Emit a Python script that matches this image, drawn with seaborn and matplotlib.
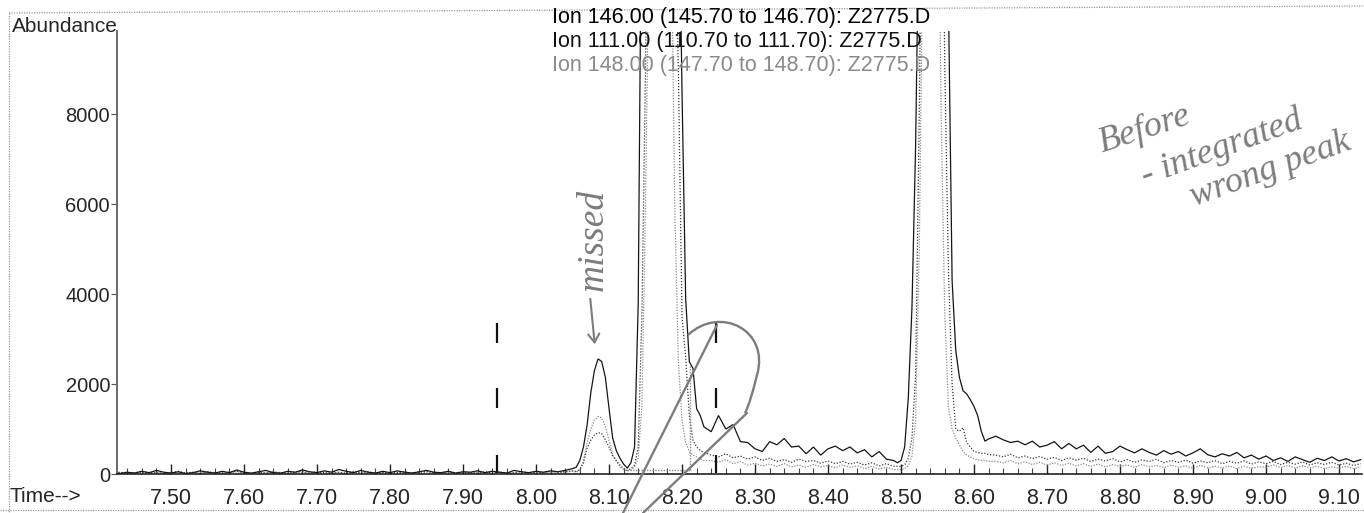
import matplotlib
matplotlib.use("Agg")
import matplotlib.pyplot as plt
import pandas as pd
import seaborn as sns
from matplotlib.lines import Line2D
from matplotlib.path import Path
from matplotlib.patches import PathPatch, FancyArrowPatch
from matplotlib.ticker import FixedLocator, MultipleLocator

# ---------------------------------------------------------------- data
# scan times (min)
time_min = [
    7.42, 7.43, 7.44, 7.45, 7.46, 7.47, 7.48, 7.49, 7.50, 7.51,
    7.52, 7.53, 7.54, 7.55, 7.56, 7.57, 7.58, 7.59, 7.60, 7.61,
    7.62, 7.63, 7.64, 7.65, 7.66, 7.67, 7.68, 7.69, 7.70, 7.71,
    7.72, 7.73, 7.74, 7.75, 7.76, 7.77, 7.78, 7.79, 7.80, 7.81,
    7.82, 7.83, 7.84, 7.85, 7.86, 7.87, 7.88, 7.89, 7.90, 7.91,
    7.92, 7.93, 7.94, 7.95, 7.96, 7.97, 7.98, 7.99, 8.00, 8.01,
    8.02, 8.03, 8.04, 8.05,
    8.055, 8.060, 8.065, 8.070, 8.075, 8.080, 8.085, 8.090, 8.095, 8.100,
    8.105, 8.110, 8.115, 8.120, 8.125, 8.130, 8.135, 8.140, 8.145, 8.150,
    8.155, 8.160, 8.165, 8.170, 8.175, 8.180, 8.185, 8.190, 8.195, 8.200,
    8.205, 8.210, 8.215, 8.220, 8.225, 8.230,
    8.24, 8.25, 8.26, 8.27, 8.28, 8.29, 8.30, 8.31, 8.32, 8.33,
    8.34, 8.35, 8.36, 8.37, 8.38, 8.39, 8.40, 8.41, 8.42, 8.43,
    8.44, 8.45, 8.46, 8.47, 8.48, 8.49,
    8.495, 8.500, 8.505, 8.510, 8.515, 8.520, 8.525, 8.530, 8.535, 8.540,
    8.545, 8.550, 8.555, 8.560, 8.565, 8.570, 8.575, 8.580, 8.585, 8.590,
    8.595, 8.600, 8.605, 8.610, 8.615, 8.620,
    8.63, 8.64, 8.65, 8.66, 8.67, 8.68, 8.69, 8.70, 8.71, 8.72,
    8.73, 8.74, 8.75, 8.76, 8.77, 8.78, 8.79, 8.80, 8.81, 8.82,
    8.83, 8.84, 8.85, 8.86, 8.87, 8.88, 8.89, 8.90, 8.91, 8.92,
    8.93, 8.94, 8.95, 8.96, 8.97, 8.98, 8.99, 9.00, 9.01, 9.02,
    9.03, 9.04, 9.05, 9.06, 9.07, 9.08, 9.09, 9.10, 9.11, 9.12,
    9.13,
]

# extracted ion abundances, same scans as time_min
ion_146 = [
    30, 10, 40, 20, 60, 30, 80, 40, 20, 50,
    10, 30, 70, 40, 20, 60, 30, 90, 40, 20,
    50, 80, 30, 20, 60, 40, 90, 50, 30, 70,
    40, 100, 60, 30, 80, 40, 20, 60, 30, 70,
    40, 20, 50, 80, 40, 30, 60, 20, 50, 40,
    70, 30, 60, 40, 20, 80, 50, 30, 60, 40,
    70, 50, 80, 120,
    150, 300, 600, 1090, 1800, 2300, 2560, 2500, 2150, 1460,
    800, 520, 350, 220, 130, 250, 600, 3800, 14000, 22000,
    27000, 30000, 32000, 33000, 32500, 30000, 26000, 20000, 14000, 8500,
    3900, 2500, 2350, 1450, 1300, 1050,
    940, 1300, 1000, 1100, 720, 700, 560, 500, 720, 650,
    790, 600, 620, 450, 600, 420, 560, 620, 520, 600,
    470, 540, 380, 500, 330, 300,
    250, 300, 600, 1700, 3700, 7300, 13000, 20000, 26000, 30000,
    32000, 31000, 27000, 19000, 10500, 4300, 2750, 2150, 1850, 1780,
    1650, 1500, 1300, 950, 730, 780,
    840, 760, 700, 730, 650, 730, 600, 640, 720, 560,
    680, 560, 640, 480, 620, 460, 500, 620, 540, 470,
    560, 480, 420, 520, 440, 500, 400, 470, 560, 430,
    380, 450, 400, 480, 360, 420, 330, 400, 300, 360,
    280, 380, 320, 260, 350, 300, 380, 290, 340, 270,
    320,
]

ion_111 = [
    20, 40, 10, 30, 50, 20, 40, 10, 30, 60,
    20, 40, 10, 50, 30, 20, 40, 60, 30, 10,
    40, 20, 50, 30, 10, 40, 60, 20, 50, 30,
    10, 40, 20, 60, 30, 50, 20, 40, 10, 30,
    50, 20, 40, 60, 30, 20, 50, 10, 40, 30,
    20, 50, 30, 40, 10, 30, 50, 20, 40, 30,
    60, 40, 50, 70,
    60, 100, 250, 575, 750, 870, 920, 900, 760, 600,
    400, 300, 200, 120, 80, 120, 200, 600, 3500, 9000,
    16000, 20000, 22000, 22500, 22000, 20000, 17000, 13000, 9000, 3500,
    2600, 1300, 750, 600, 520, 480,
    420, 380, 450, 360, 400, 330, 380, 300, 350, 280,
    320, 260, 330, 280, 300, 240, 290, 230, 280, 220,
    260, 200, 250, 180, 230, 170,
    170, 170, 200, 350, 800, 2200, 8000, 16000, 21000, 24000,
    25000, 23000, 17000, 9000, 4500, 2000, 1000, 950, 1030, 700,
    600, 500, 480, 460, 460, 430,
    420, 380, 440, 360, 400, 340, 390, 330, 370, 300,
    360, 310, 350, 280, 330, 290, 340, 270, 320, 260,
    310, 280, 330, 250, 300, 260, 310, 240, 290, 250,
    300, 230, 280, 240, 290, 220, 270, 230, 280, 210,
    260, 220, 270, 200, 250, 210, 260, 200, 240, 190,
    230,
]

ion_148 = [
    10, 30, 20, 10, 40, 20, 30, 10, 20, 40,
    10, 30, 20, 40, 10, 30, 20, 50, 20, 10,
    30, 20, 40, 10, 30, 20, 40, 10, 30, 20,
    50, 20, 10, 30, 40, 20, 10, 30, 20, 40,
    10, 30, 20, 40, 20, 10, 30, 20, 40, 20,
    30, 10, 20, 40, 30, 20, 10, 30, 40, 20,
    30, 20, 40, 60,
    40, 80, 300, 700, 1000, 1200, 1280, 1250, 1050, 750,
    450, 280, 160, 100, 70, 90, 150, 350, 1500, 6000,
    12000, 16000, 18000, 18500, 18000, 16000, 12500, 6000, 2500, 1200,
    700, 500, 420, 380, 330, 300,
    300, 260, 320, 230, 270, 200, 240, 180, 220, 170,
    230, 160, 200, 150, 210, 160, 190, 140, 200, 150,
    180, 120, 170, 110, 150, 100,
    100, 100, 120, 180, 400, 1200, 5000, 12000, 17000, 19000,
    19500, 15000, 8000, 3500, 1500, 1000, 800, 650, 500, 420,
    380, 340, 320, 300, 310, 280,
    280, 250, 300, 230, 270, 210, 260, 200, 250, 190,
    240, 180, 230, 170, 220, 160, 210, 170, 200, 150,
    210, 160, 190, 140, 200, 150, 180, 130, 190, 140,
    170, 130, 180, 120, 170, 130, 160, 150, 200, 140,
    190, 130, 180, 140, 170, 120, 160, 130, 170, 120,
    160,
]

ion_labels = [
    "Ion 146.00 (145.70 to 146.70): Z2775.D",
    "Ion 111.00 (110.70 to 111.70): Z2775.D",
    "Ion 148.00 (147.70 to 148.70): Z2775.D",
]
x_ticks = [7.50, 7.60, 7.70, 7.80, 7.90, 8.00, 8.10, 8.20,
           8.30, 8.40, 8.50, 8.60, 8.70, 8.80, 8.90, 9.00, 9.10]
y_ticks = [0, 2000, 4000, 6000, 8000]

# integration events and the (wrongly) integrated peak window
event_times = [7.947, 8.247]
event_marks = [(20, 420), (1470, 1910), (2910, 3360)]
peak_window = [8.124, 8.211]
peak_baseline = 90
peak_drop_top = 2450

# ---------------------------------------------------------------- figure
W, H = 1364, 513
sns.set_theme(style="white")
plt.rcParams["font.family"] = ["Liberation Sans", "DejaVu Sans"]

fig = plt.figure(figsize=(W / 100, H / 100), dpi=100)
fig.patch.set_facecolor("white")
ax = fig.add_axes([117 / W, (H - 474) / H, (1362 - 117) / W, (474 - 31) / H])

df = pd.DataFrame({
    "time": time_min * 3,
    "abundance": ion_146 + ion_111 + ion_148,
    "ion": [ion_labels[0]] * len(time_min)
           + [ion_labels[1]] * len(time_min)
           + [ion_labels[2]] * len(time_min),
})

colors = {ion_labels[0]: "#151515", ion_labels[1]: "#3a3a3a", ion_labels[2]: "#8c8c8c"}
dashes = {ion_labels[0]: "", ion_labels[1]: (1, 1.4), ion_labels[2]: (1, 1.2)}
order = [ion_labels[2], ion_labels[1], ion_labels[0]]

sns.lineplot(data=df, x="time", y="abundance", hue="ion", style="ion",
             hue_order=order, style_order=order, palette=colors,
             dashes=dashes, estimator=None, sort=False, legend=False,
             linewidth=0.9, ax=ax)
for line in ax.lines:
    line.set_solid_joinstyle("miter")

# integration markers
for t in event_times:
    for lo, hi in event_marks:
        ax.vlines(t, lo, hi, color="#111111", linewidth=1.6)
ax.hlines(peak_baseline, peak_window[0], peak_window[1], color="#888888",
          linewidth=1.0, linestyles=(0, (1, 1)))
ax.vlines(peak_window[1], peak_baseline, peak_drop_top, color="#888888",
          linewidth=1.0, linestyles=(0, (1, 1)))

ax.set_xlim(7.426, 9.1315)
ax.set_ylim(0, 9850)
ax.set_xlabel("")
ax.set_ylabel("")

ax.xaxis.set_major_locator(FixedLocator(x_ticks))
ax.xaxis.set_minor_locator(MultipleLocator(0.02))
ax.set_xticklabels([f"{v:.2f}" for v in x_ticks], fontsize=15.5)
ax.yaxis.set_major_locator(FixedLocator(y_ticks))
ax.set_yticklabels([str(v) for v in y_ticks])

ax.tick_params(axis="x", which="major", direction="in", length=7, width=1.0,
               color="#222222", pad=10, bottom=True)
ax.tick_params(axis="x", which="minor", direction="in", length=4, width=0.8,
               color="#444444", bottom=True)
ax.tick_params(axis="y", which="major", direction="out", length=4, width=0.8,
               color="#555555", labelsize=14.5, pad=1, left=True)

for side in ("top", "right"):
    ax.spines[side].set_visible(False)
ax.spines["left"].set_color("#6a6a6a")
ax.spines["left"].set_linewidth(1.4)
ax.spines["bottom"].set_color("#222222")
ax.spines["bottom"].set_linewidth(1.2)
ax.patch.set_alpha(0)


def fpx(x, y):
    return x / W, 1 - y / H


# page frame
for (x0, y0), (x1, y1) in [((9, 13), (1364, 6)), ((9, 13), (9, 513)),
                           ((0, 510), (1364, 510))]:
    fig.add_artist(Line2D([fpx(x0, y0)[0], fpx(x1, y1)[0]],
                          [fpx(x0, y0)[1], fpx(x1, y1)[1]],
                          transform=fig.transFigure, color="#9a9a9a",
                          linewidth=0.9, linestyle=(0, (1, 1))))

# header texts
fig.text(*fpx(12, 27), "Abundance", fontsize=15, ha="left", va="center")
fig.text(*fpx(9, 497), "Time-->", fontsize=15, ha="left", va="center")
for i, (lab, col) in enumerate(zip(ion_labels, ["#000000", "#111111", "#8a8a8a"])):
    fig.text(*fpx(552, 18 + 23.5 * i), lab, fontsize=15.5, ha="left",
             va="center", color=col)

# pen notes
pen = "#7c7c7c"
hand = dict(family=["Liberation Serif", "DejaVu Serif"], style="italic",
            color=pen)
fig.text(*fpx(593, 240), "missed", rotation=90, fontsize=27,
         ha="center", va="center", **hand)
fig.add_artist(FancyArrowPatch(fpx(590, 296), fpx(595, 347),
                               transform=fig.transFigure,
                               arrowstyle="->,head_length=6,head_width=4",
                               color=pen, linewidth=1.5))
fig.text(*fpx(1145, 130), "Before", rotation=18, fontsize=26,
         ha="center", va="center", **hand)
fig.text(*fpx(1222, 148), "- integrated", rotation=20, fontsize=26,
         ha="center", va="center", **hand)
fig.text(*fpx(1270, 170), "wrong peak", rotation=20, fontsize=26,
         ha="center", va="center", **hand)

lasso = [(623, 513), (717, 325)], [(643, 513), (747, 413)]
for pts in lasso:
    xs, ys = zip(*[fpx(x, y) for x, y in pts])
    fig.add_artist(Line2D(xs, ys, transform=fig.transFigure, color=pen,
                          linewidth=1.7))
loop_pts = [(688, 335), (720, 305), (770, 330), (757, 375),
            (752, 395), (749, 405), (745, 413)]
codes = [Path.MOVETO, Path.CURVE4, Path.CURVE4, Path.CURVE4,
         Path.CURVE4, Path.CURVE4, Path.CURVE4]
fig.add_artist(PathPatch(Path([fpx(x, y) for x, y in loop_pts], codes),
                         transform=fig.transFigure, facecolor="none",
                         edgecolor=pen, linewidth=1.7))

fig.savefig("out.png", dpi=100, facecolor="white")
